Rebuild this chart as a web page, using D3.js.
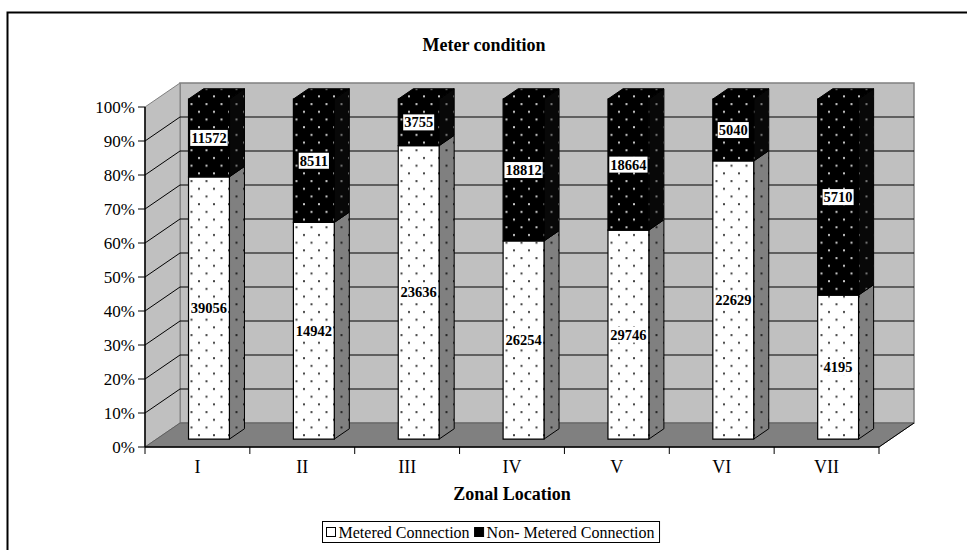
<!DOCTYPE html>
<html>
  <head>
    <meta charset="utf-8" />
    <title>Meter condition</title>
    <script src="https://d3js.org/d3.v7.min.js"></script>
    <style>
      body { margin: 0; background: #fff; }
      text { font-family: "Liberation Serif", "Times New Roman", serif; }
    </style>
  </head>
  <body>
    <script>
      let categories = ["I", "II", "III", "IV", "V", "VI", "VII"];
      let metered = [39056, 14942, 23636, 26254, 29746, 22629, 4195];
      let nonMetered = [11572, 8511, 3755, 18812, 18664, 5040, 5710];
      let yTicks = [0, 0.1, 0.2, 0.3, 0.4, 0.5, 0.6, 0.7, 0.8, 0.9, 1];
      let seriesNames = ["Metered Connection", "Non- Metered Connection"];

      let width = 967;
      let height = 550;
      let svg = d3
        .select("body")
        .append("svg")
        .attr("width", width)
        .attr("height", height);

      // 3d depth of the plot box
      let depthX = 35;
      let depthY = -24;
      let x = d3.scaleBand().domain(categories).range([145, 879]);
      let y = d3.scaleLinear().domain([0, 1]).range([447, 107]);
      let fmtPct = d3.format(".0%");

      function proj(px, py, d) {
        return [px + depthX * d, py + depthY * d];
      }
      function poly(pts) {
        return pts.map((p) => p.join(",")).join(" ");
      }

      // patterns
      let defs = svg.append("defs");
      function dotPattern(id, bg, dot) {
        let p = defs
          .append("pattern")
          .attr("id", id)
          .attr("patternUnits", "userSpaceOnUse")
          .attr("width", 15)
          .attr("height", 15.4);
        p.append("rect").attr("width", 15).attr("height", 15.4).attr("fill", bg);
        p.append("rect").attr("x", 3).attr("y", 3).attr("width", 2).attr("height", 2).attr("fill", dot);
        p.append("rect").attr("x", 10.5).attr("y", 10.7).attr("width", 2).attr("height", 2).attr("fill", dot);
      }
      dotPattern("pWhite", "#ffffff", "#444");
      dotPattern("pBlack", "#000000", "#c8c8c8");
      dotPattern("pWhiteSide", "#808080", "#222");
      dotPattern("pBlackSide", "#080808", "#777");

      // outer frame
      svg
        .append("rect")
        .attr("x", 7.5)
        .attr("y", 12.5)
        .attr("width", 1000)
        .attr("height", 600)
        .attr("fill", "none")
        .attr("stroke", "#000")
        .attr("stroke-width", 2);

      // walls
      let x0 = x.range()[0];
      let x1 = x.range()[1];
      svg
        .append("polygon")
        .attr("points", poly([proj(x0, y(0), 1), proj(x1, y(0), 1), proj(x1, y(1), 1), proj(x0, y(1), 1)]))
        .attr("fill", "#c0c0c0")
        .attr("stroke", "#808080")
        .attr("stroke-width", 1.5);
      svg
        .append("polygon")
        .attr("points", poly([[x0, y(0)], proj(x0, y(0), 1), proj(x0, y(1), 1), [x0, y(1)]]))
        .attr("fill", "#c0c0c0")
        .attr("stroke", "#808080")
        .attr("stroke-width", 1);
      svg
        .append("polygon")
        .attr("points", poly([[x0, y(0)], [x1, y(0)], proj(x1, y(0), 1), proj(x0, y(0), 1)]))
        .attr("fill", "#808080")
        .attr("stroke", "#606060")
        .attr("stroke-width", 1);

      // grid lines
      let gridVals = yTicks.filter((v) => v > 0 && v < 1);
      svg
        .selectAll(".gridBack")
        .data(gridVals)
        .join("line")
        .attr("class", "gridBack")
        .attr("x1", proj(x0, 0, 1)[0])
        .attr("x2", proj(x1, 0, 1)[0])
        .attr("y1", (d) => proj(0, y(d), 1)[1])
        .attr("y2", (d) => proj(0, y(d), 1)[1])
        .attr("stroke", "#000");
      svg
        .selectAll(".gridSide")
        .data(gridVals)
        .join("line")
        .attr("class", "gridSide")
        .attr("x1", x0)
        .attr("y1", (d) => y(d))
        .attr("x2", proj(x0, 0, 1)[0])
        .attr("y2", (d) => proj(0, y(d), 1)[1])
        .attr("stroke", "#000");

      // axes
      svg
        .append("line")
        .attr("x1", x0)
        .attr("x2", x0)
        .attr("y1", y(1))
        .attr("y2", y(0))
        .attr("stroke", "#000")
        .attr("stroke-width", 1.5);
      svg
        .append("line")
        .attr("x1", x0)
        .attr("x2", x1)
        .attr("y1", y(0))
        .attr("y2", y(0))
        .attr("stroke", "#000")
        .attr("stroke-width", 1.5);
      svg
        .append("line")
        .attr("x1", x1)
        .attr("y1", y(0))
        .attr("x2", proj(x1, 0, 1)[0])
        .attr("y2", proj(0, y(0), 1)[1])
        .attr("stroke", "#000");
      svg
        .selectAll(".ytick")
        .data(yTicks)
        .join("line")
        .attr("class", "ytick")
        .attr("x1", x0 - 7)
        .attr("x2", x0)
        .attr("y1", (d) => y(d))
        .attr("y2", (d) => y(d))
        .attr("stroke", "#000");
      svg
        .selectAll(".ylabel")
        .data(yTicks)
        .join("text")
        .attr("class", "ylabel")
        .attr("x", x0 - 10)
        .attr("y", (d) => y(d) + 6)
        .attr("text-anchor", "end")
        .attr("font-size", 17)
        .text((d) => fmtPct(d));
      let bounds = categories.map((c) => x(c)).concat([x1]);
      svg
        .selectAll(".xtick")
        .data(bounds)
        .join("line")
        .attr("class", "xtick")
        .attr("x1", (d) => d)
        .attr("x2", (d) => d)
        .attr("y1", y(0))
        .attr("y2", y(0) + 7)
        .attr("stroke", "#000");
      svg
        .selectAll(".xlabel")
        .data(categories)
        .join("text")
        .attr("class", "xlabel")
        .attr("x", (d) => x(d) + x.bandwidth() / 2)
        .attr("y", y(0) + 26)
        .attr("text-anchor", "middle")
        .attr("font-size", 18)
        .text((d) => d);

      // bars
      let dFront = 0.33;
      let dBack = 0.76;
      let barW = x.bandwidth() * 0.39;
      let bars = categories.map((c, i) => {
        let total = metered[i] + nonMetered[i];
        let cx = x(c) + x.bandwidth() / 2;
        return {
          cat: c,
          left: cx - barW / 2,
          right: cx + barW / 2,
          segs: [
            { v0: 0, v1: metered[i] / total, val: metered[i], face: "pWhite", side: "pWhiteSide" },
            { v0: metered[i] / total, v1: 1, val: nonMetered[i], face: "pBlack", side: "pBlackSide" },
          ],
        };
      });

      let barG = svg.selectAll(".bar").data(bars).join("g").attr("class", "bar");
      barG.each(function (b) {
        let g = d3.select(this);
        b.segs.forEach((s) => {
          // side face
          g.append("polygon")
            .attr("points", poly([
              proj(b.right, y(s.v0), dFront),
              proj(b.right, y(s.v0), dBack),
              proj(b.right, y(s.v1), dBack),
              proj(b.right, y(s.v1), dFront),
            ]))
            .attr("fill", "url(#" + s.side + ")")
            .attr("stroke", "#000")
            .attr("stroke-width", 1);
          // front face
          g.append("polygon")
            .attr("points", poly([
              proj(b.left, y(s.v0), dFront),
              proj(b.right, y(s.v0), dFront),
              proj(b.right, y(s.v1), dFront),
              proj(b.left, y(s.v1), dFront),
            ]))
            .attr("fill", "url(#" + s.face + ")")
            .attr("stroke", "#000")
            .attr("stroke-width", 1.2);
        });
        // top face
        let top = b.segs[b.segs.length - 1];
        g.append("polygon")
          .attr("points", poly([
            proj(b.left, y(top.v1), dFront),
            proj(b.right, y(top.v1), dFront),
            proj(b.right, y(top.v1), dBack),
            proj(b.left, y(top.v1), dBack),
          ]))
          .attr("fill", "url(#pBlack)")
          .attr("stroke", "#000")
          .attr("stroke-width", 1);
      });

      // value labels
      let labels = [];
      bars.forEach((b) => {
        b.segs.forEach((s) => {
          let p = proj((b.left + b.right) / 2, y((s.v0 + s.v1) / 2), dFront);
          labels.push({ x: p[0], y: p[1], text: s.val });
        });
      });
      let lab = svg.selectAll(".vlabel").data(labels).join("g").attr("class", "vlabel");
      lab
        .append("text")
        .attr("x", (d) => d.x)
        .attr("y", (d) => d.y + 5)
        .attr("text-anchor", "middle")
        .attr("font-size", 14.5)
        .attr("font-weight", "bold")
        .text((d) => d.text);
      lab.each(function () {
        let t = d3.select(this).select("text");
        let bb = t.node().getBBox();
        d3.select(this)
          .insert("rect", "text")
          .attr("x", bb.x - 1)
          .attr("y", bb.y)
          .attr("width", bb.width + 2)
          .attr("height", bb.height)
          .attr("fill", "#fff");
      });

      // titles
      svg
        .append("text")
        .attr("x", 484)
        .attr("y", 51)
        .attr("text-anchor", "middle")
        .attr("font-size", 18)
        .attr("font-weight", "bold")
        .text("Meter condition");
      svg
        .append("text")
        .attr("x", (x0 + x1) / 2)
        .attr("y", 500)
        .attr("text-anchor", "middle")
        .attr("font-size", 18)
        .attr("font-weight", "bold")
        .text("Zonal Location");

      // legend
      let legend = svg.append("g").attr("transform", "translate(322.5,521.5)");
      let legBox = legend
        .append("rect")
        .attr("height", 21)
        .attr("fill", "#fff")
        .attr("stroke", "#000");
      let legFill = ["#fff", "#000"];
      let cursor = 4;
      seriesNames.forEach((name, i) => {
        legend
          .append("rect")
          .attr("x", cursor)
          .attr("y", 6)
          .attr("width", 9)
          .attr("height", 9)
          .attr("fill", legFill[i])
          .attr("stroke", "#000");
        let t = legend
          .append("text")
          .attr("x", cursor + 12)
          .attr("y", 16)
          .attr("font-size", 16)
          .text(name);
        cursor += 12 + t.node().getComputedTextLength() + 5;
      });
      legBox.attr("width", cursor);
    </script>
  </body>
</html>
